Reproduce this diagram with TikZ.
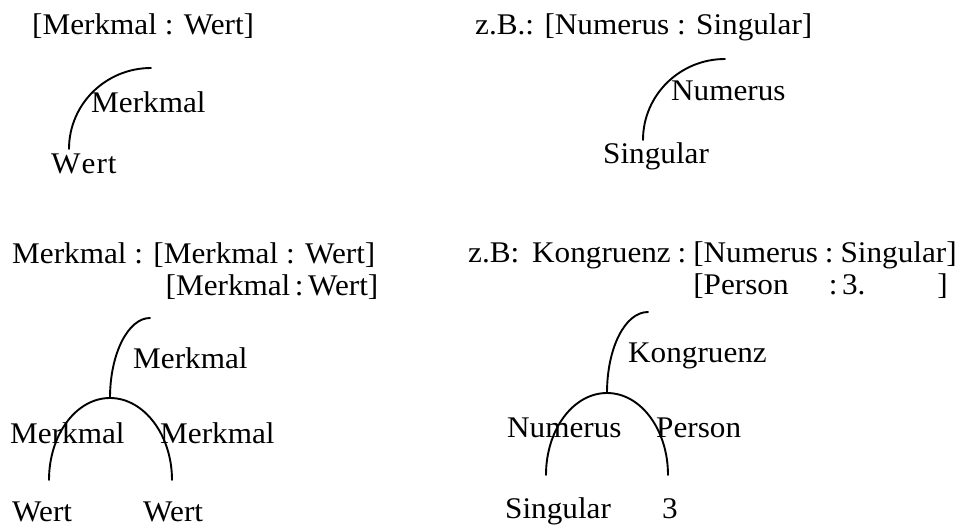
\documentclass[tikz,border=0pt]{standalone}
\usepackage{fontspec}
\setmainfont[FakeStretch=1.04]{Liberation Serif}
\begin{document}
\begin{tikzpicture}[x=1pt,y=-1pt,
  txt/.style={inner sep=0pt, anchor=base west, font=\fontsize{30}{36}\selectfont},
  arcline/.style={line width=1.9pt, line cap=round}]
\useasboundingbox (0,0) rectangle (959,527);

% ---------- top left ----------
\node[txt] (h1) at (32,35) {[Merkmal : Wert]};
\node[txt] (m1) at (91,113) {Merkmal};
\node[txt] (w1) at (51,173) {W\kern1pt e\kern1pt r\kern1pt t};
\coordinate (a1t) at (151,68);
\coordinate (a1b) at (69,149);
\draw[arcline] (a1t) .. controls +(-45,0) and +(0,-45) .. (a1b);

% ---------- top right ----------
\node[txt] (h2) at (475,35) {z.B.: [Numerus : Singular]};
\node[txt] (n2) at (671,100) {Numerus};
\node[txt] (s2) at (603,163) {Singular};
\coordinate (a2t) at (725,59);
\coordinate (a2b) at (643,140);
\draw[arcline] (a2t) .. controls +(-45,0) and +(0,-45) .. (a2b);

% ---------- bottom left ----------
\node[txt] (h3) at (12,263) {Merkmal : [Merkmal : Wert]};
\node[txt, anchor=base east] (h3b) at ([xshift=3pt,yshift=-32pt]h3.base east) {[Merkmal\hspace{0.15em}:\hspace{0.15em}Wert]};
\coordinate (a3t) at (150,318);
\coordinate (a3j) at (110,398);
\coordinate (a3l) at (49,480);
\coordinate (a3r) at (172,480);
\draw[arcline] (a3t) .. controls +(-22,0) and +(0,-44) .. (a3j);
\draw[arcline] (a3l) .. controls +(0,-45) and +(-34,0) .. (a3j)
                     .. controls +(34,0) and +(0,-45) .. (a3r);
\node[txt] (m3) at (133,368) {Merkmal};
\node[txt] (m3l) at (10,443) {Merkmal};
\node[txt] (m3r) at (160,443) {Merkmal};
\node[txt] (w3l) at (12,521) {Wert};
\node[txt] (w3r) at (143,521) {Wert};

% ---------- bottom right ----------
\node[txt] (zb) at (468,262) {z.B:};
\node[txt] (kg) at (532,262) {Kongruenz};
\node[txt] (c1) at ([xshift=6.5pt]kg.base east) {:};
\node[txt] (nb) at ([xshift=6.5pt]c1.base east) {[Numerus};
\node[txt] (c2) at ([xshift=6.5pt]nb.base east) {:};
\node[txt] (sg) at ([xshift=6.5pt]c2.base east) {Singular]};
\node[txt] (pe) at ([yshift=-32pt]nb.base west) {[Person};
\node[txt] (c3) at ([xshift=4pt,yshift=-32pt]c2.base west) {:\hspace{0.15em}3.};
\node[txt, anchor=base east] (rb) at ([xshift=-9pt,yshift=-32pt]sg.base east) {]};
\coordinate (a4t) at (648,312);
\coordinate (a4j) at (607,393);
\coordinate (a4l) at (546,475);
\coordinate (a4r) at (668,475);
\draw[arcline] (a4t) .. controls +(-23,0) and +(0,-45) .. (a4j);
\draw[arcline] (a4l) .. controls +(0,-45) and +(-34,0) .. (a4j)
                     .. controls +(34,0) and +(0,-45) .. (a4r);
\node[txt] (k4) at (628,362) {Kongruenz};
\node[txt] (n4) at (507,437) {Numerus};
\node[txt] (p4) at (656,437) {Person};
\node[txt] (s4) at (505,518) {Singular};
\node[txt] (d4) at (662,518) {3};
\end{tikzpicture}
\end{document}
